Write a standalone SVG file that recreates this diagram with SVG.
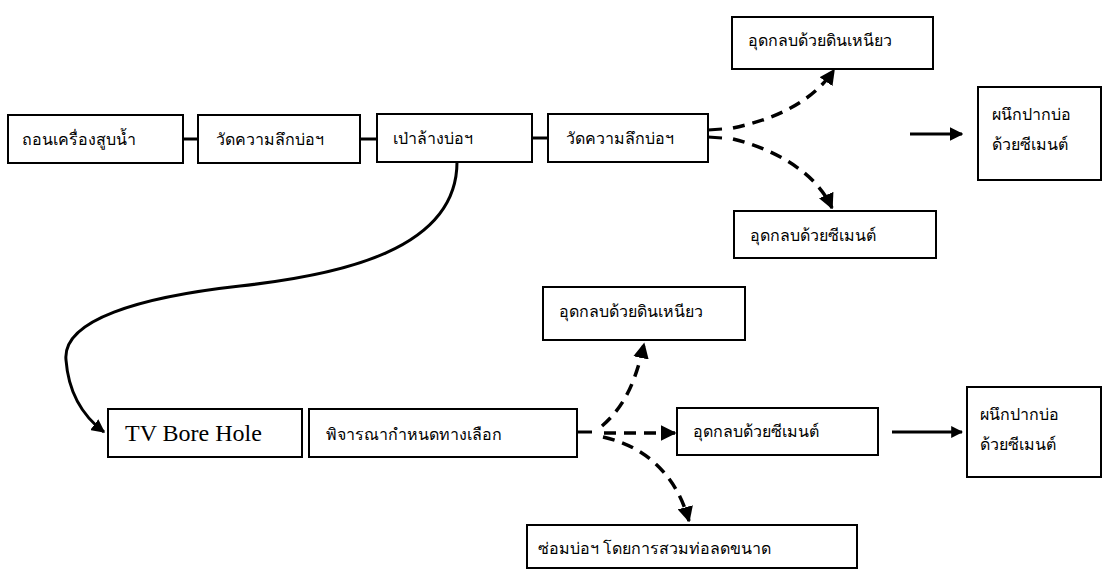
<svg xmlns="http://www.w3.org/2000/svg" width="1102" height="572" viewBox="0 0 1102 572">
<style>
.box{fill:#fff;stroke:#000;stroke-width:2}
.t{font-family:"Liberation Serif","Noto Sans",serif;font-size:16px;fill:#000}
.tv{font-family:"Liberation Serif",serif;font-size:24px;fill:#000}
.solid{fill:none;stroke:#000;stroke-width:3}
.dash{fill:none;stroke:#000;stroke-width:3.5;stroke-dasharray:12 8}
</style>
<defs>
<marker id="ah" viewBox="0 0 10 10" refX="9" refY="5" markerWidth="4.5" markerHeight="4.5" markerUnits="strokeWidth" orient="auto">
<path d="M0,0 L10,5 L0,10 z" fill="#000"/>
</marker>
<marker id="ah2" viewBox="0 0 10 10" refX="9" refY="5" markerWidth="4" markerHeight="4" markerUnits="strokeWidth" orient="auto">
<path d="M0,0 L10,5 L0,10 z" fill="#000"/>
</marker>
</defs>
<g id="connectors">
<line class="solid" x1="183" y1="139" x2="198" y2="139"/>
<line class="solid" x1="360" y1="139" x2="377" y2="139"/>
<line class="solid" x1="532" y1="138" x2="548" y2="138"/>
<line class="solid" stroke-width="2.5" x1="708" y1="130" x2="722" y2="129"/>
<line class="solid" stroke-width="2.5" x1="708" y1="137" x2="722" y2="138"/>
<path class="dash" d="M733,128 C770,120 810,105 834,70" marker-end="url(#ah)"/>
<path class="dash" d="M733,139 C770,148 815,170 832,208" marker-end="url(#ah)"/>
<line class="solid" x1="910" y1="134" x2="962" y2="134" marker-end="url(#ah)"/>
<path class="solid" d="M457,162 C457,250 340,275 240,286 C140,297 62,320 66,360 C69,400 88,420 104,432" marker-end="url(#ah)"/>
<line class="solid" stroke-width="4" x1="578" y1="432" x2="592" y2="432"/>
<path class="dash" d="M602,426 C620,410 634,390 644,344" marker-end="url(#ah)"/>
<line class="dash" x1="604" y1="433" x2="675" y2="433" marker-end="url(#ah)"/>
<path class="dash" d="M603,437 C640,445 675,470 689,521" marker-end="url(#ah)"/>
<line class="solid" stroke-width="5" x1="892" y1="432" x2="962" y2="432" marker-end="url(#ah2)"/>
</g>
<g id="n1"><rect class="box" x="8" y="115" width="175" height="48"/><text class="t" x="22" y="145">ถอนเครื่องสูบน้ำ</text></g>
<g id="n2"><rect class="box" x="198" y="115" width="162" height="48"/><text class="t" x="216" y="145">วัดความลึกบ่อฯ</text></g>
<g id="n3"><rect class="box" x="377" y="114" width="155" height="48"/><text class="t" x="393" y="144">เป่าล้างบ่อฯ</text></g>
<g id="n4"><rect class="box" x="548" y="114" width="160" height="48"/><text class="t" x="566" y="144">วัดความลึกบ่อฯ</text></g>
<g id="n5"><rect class="box" x="732" y="17" width="201" height="52"/><text class="t" x="748" y="46">อุดกลบด้วยดินเหนียว</text></g>
<g id="n6"><rect class="box" x="734" y="211" width="202" height="47"/><text class="t" x="750" y="241">อุดกลบด้วยซีเมนต์</text></g>
<g id="n7"><rect class="box" x="978" y="87" width="123" height="93"/><text class="t" x="992" y="120">ผนึกปากบ่อ</text><text class="t" x="992" y="150">ด้วยซีเมนต์</text></g>
<g id="n8"><rect class="box" x="108" y="409" width="194" height="48"/><text class="tv" x="125" y="441">TV Bore Hole</text></g>
<g id="n9"><rect class="box" x="309" y="409" width="268" height="48"/><text class="t" x="326" y="440">พิจารณากำหนดทางเลือก</text></g>
<g id="n10"><rect class="box" x="543" y="287" width="202" height="53"/><text class="t" x="559" y="317">อุดกลบด้วยดินเหนียว</text></g>
<g id="n11"><rect class="box" x="677" y="408" width="201" height="47"/><text class="t" x="693" y="437">อุดกลบด้วยซีเมนต์</text></g>
<g id="n12"><rect class="box" x="527" y="525" width="330" height="43"/><text class="t" x="538" y="554">ซ่อมบ่อฯ โดยการสวมท่อลดขนาด</text></g>
<g id="n13"><rect class="box" x="967" y="387" width="134" height="90"/><text class="t" x="980" y="420">ผนึกปากบ่อ</text><text class="t" x="980" y="450">ด้วยซีเมนต์</text></g>
</svg>
